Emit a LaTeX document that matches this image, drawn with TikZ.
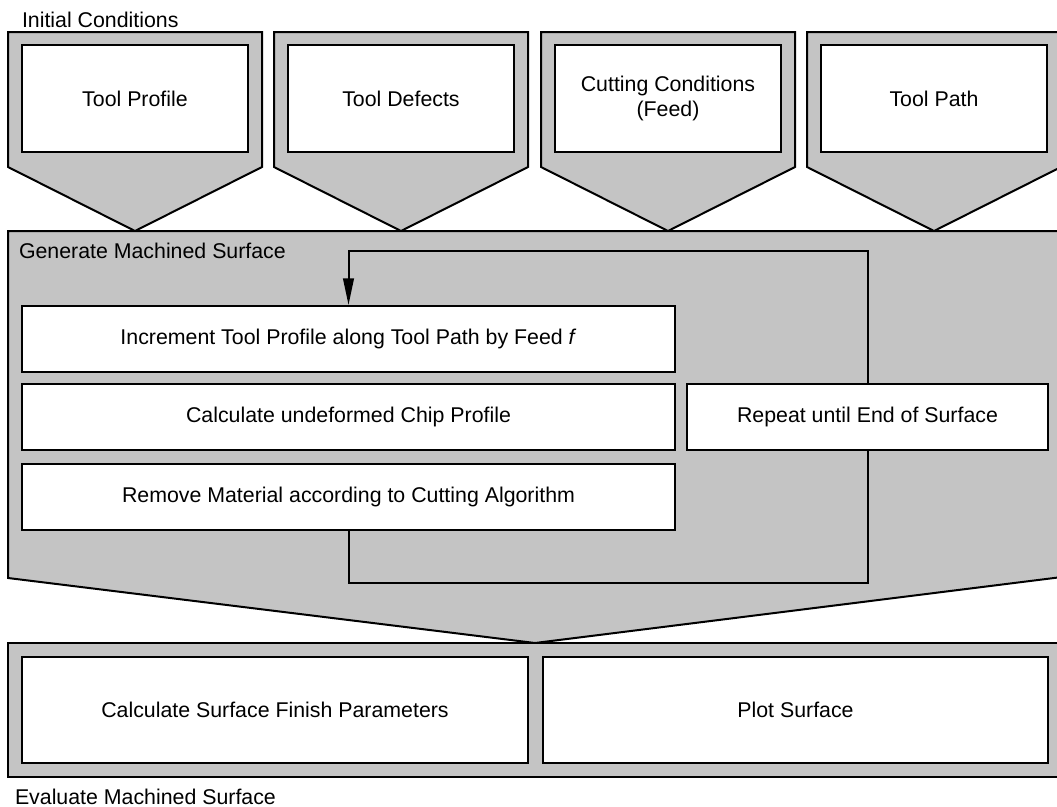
\documentclass[tikz,border=0pt]{standalone}
\usepackage{fontspec}
\setmainfont{Liberation Sans}
\usetikzlibrary{arrows.meta}

\definecolor{stipple}{RGB}{196,196,196}

\tikzset{every picture/.style={line width=1.5pt}}
\tikzset{
  chevron/.style={draw, fill=stipple, line join=miter},
  inbox/.style={draw, fill=white, inner sep=0pt, align=center},
  loopline/.style={draw, -{Triangle[length=20pt,width=8pt]}},
}

\begin{document}
\begin{tikzpicture}[x=0.75pt,y=0.75pt,yscale=-1,xscale=1,font=\fontsize{16}{19}\selectfont]
        \useasboundingbox (0,0) rectangle (1057,807);
        \clip (0,0) rectangle (1057,807);

        %Shape: Pentagon [Tool Profile]
        \draw [chevron] (8,32) -- (262,32) -- (262,167) -- (135,231) -- (8,167) -- cycle ;
        %Shape: Pentagon [Tool Defects]
        \draw [chevron] (274,32) -- (528,32) -- (528,167) -- (401,231) -- (274,167) -- cycle ;
        %Shape: Pentagon [Cutting Conditions]
        \draw [chevron] (541,32) -- (795,32) -- (795,167) -- (668,231) -- (541,167) -- cycle ;
        %Shape: Pentagon [Tool Path]
        \draw [chevron] (807,32) -- (1061,32) -- (1061,167) -- (934,231) -- (807,167) -- cycle ;

        % Boxes in the pentagons
        \node (toolprof) [inbox, minimum width=169.5pt, minimum height=80.25pt] at (135,98.5) {Tool Profile};
        \node (tooldef) [inbox, minimum width=169.5pt, minimum height=80.25pt] at (401,98.5) {Tool Defects};
        \node (cutcond) [inbox, minimum width=169.5pt, minimum height=80.25pt] at (668,98.5) {Cutting Conditions\\(Feed)};
        \node (toolpath) [inbox, minimum width=169.5pt, minimum height=80.25pt] at (934,98.5) {Tool Path};

        %Shape: Pentagon [Generate Machined Surface]
        \draw [chevron] (8,231) -- (1062,231) -- (1062,577) -- (535,643) -- (8,578) -- cycle ;

        % Boxes in the generate block
        \node (increment) [inbox, minimum width=489.75pt, minimum height=49.5pt] at (348.5,339) {Increment Tool Profile along Tool Path by Feed \textit{f}};
        \node (chipprof) [inbox, minimum width=489.75pt, minimum height=49.5pt] at (348.5,417) {Calculate undeformed Chip Profile};
        \node (remove) [inbox, minimum width=489.75pt, minimum height=49.5pt] at (348.5,496.5) {Remove Material according to Cutting Algorithm};

        %Straight Lines [loop]
        \coordinate (loopBR) at (867.5,583);
        \coordinate (loopTR) at (867.5,251);
        \draw [loopline] (remove.south) |- (loopBR) -- (loopTR) -| (increment.north);

        \node (repeat) [inbox, minimum width=270.75pt, minimum height=49.5pt] at (867.5,417) {Repeat until End of Surface};

        %Shape: Rectangle [Evaluate Machined Surface]
        \draw [chevron] (8,643) rectangle (1062,777);
        \node (finish) [inbox, minimum width=379.5pt, minimum height=79.5pt] at (275,710) {Calculate Surface Finish Parameters};
        \node (plot) [inbox, minimum width=378.75pt, minimum height=79.5pt] at (795.5,710) {Plot Surface};

        % Text Node
        \node (lblinit) [anchor=base west, inner sep=0.75pt] at (20,27) {Initial Conditions};
        % Text Node
        \node (lblgen) [anchor=base west, inner sep=0.75pt] at (17,258) {Generate Machined Surface};
        % Text Node
        \node (lbleval) [anchor=base west, inner sep=0.75pt] at (13,804) {Evaluate Machined Surface};

\end{tikzpicture}
\end{document}
